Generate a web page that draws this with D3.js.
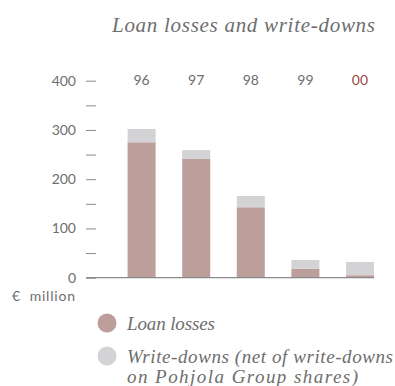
<!DOCTYPE html>
<html>
<head>
<meta charset="utf-8">
<script src="https://cdn.jsdelivr.net/npm/d3@7"></script>
<style>
  body { margin: 0; background: #fff; }
  svg { display: block; }
</style>
</head>
<body>
<svg id="chart" width="395" height="386"></svg>
<script>
// values, in € million
var years = ["96", "97", "98", "99", "00"];
var loanLosses = [275, 241, 143, 18, 5];
var writeDowns = [27, 18, 23, 18, 27];
var yTicks = [0, 50, 100, 150, 200, 250, 300, 350, 400];
var legendLabels = [["Loan losses"], ["Write-downs (net of write-downs", "on Pohjola Group shares)"]];
var legendWidths = [[88], [266, 231]];

var svg = d3.select("#chart");
var numFont = "Lato, 'Open Sans', sans-serif";
var serif = "'Liberation Serif', 'DejaVu Serif', serif";
var grey = "#6e6e6e";
var loanCol = "#bc9f9b";
var writeCol = "#d3d3d5";

var x = d3.scaleBand().domain(years).range([86, 374])
    .paddingInner(0.487).paddingOuter(0.381).align(1);
var y = d3.scaleLinear().domain([0, 400]).range([277.7, 80.7]);

// title
svg.append("text")
    .attr("x", 112).attr("y", 32)
    .attr("font-family", serif).attr("font-style", "italic")
    .attr("font-size", "21px").attr("fill", grey)
    .attr("textLength", 263).attr("lengthAdjust", "spacing")
    .text("Loan losses and write-downs");

// y axis
var yAxis = d3.axisLeft(y)
    .tickValues(yTicks)
    .tickSize(10)
    .tickPadding(10)
    .tickFormat(function (d) { return d % 100 === 0 ? d : ""; });

var ag = svg.append("g").attr("transform", "translate(96,0)").call(yAxis);
ag.select(".domain").remove();
ag.selectAll(".tick line").attr("stroke", "#8a8a8a");
ag.selectAll(".tick text")
    .attr("font-family", numFont).attr("font-size", "14px").attr("fill", grey);

// bars
var g = svg.append("g");
g.selectAll(".loan").data(years).enter().append("rect")
    .attr("class", "loan")
    .attr("x", function (d) { return x(d); })
    .attr("width", x.bandwidth())
    .attr("y", function (d, i) { return y(loanLosses[i]); })
    .attr("height", function (d, i) { return y(0) - y(loanLosses[i]); })
    .attr("fill", loanCol);

g.selectAll(".write").data(years).enter().append("rect")
    .attr("class", "write")
    .attr("x", function (d) { return x(d); })
    .attr("width", x.bandwidth())
    .attr("y", function (d, i) { return y(loanLosses[i] + writeDowns[i]); })
    .attr("height", function (d, i) { return y(loanLosses[i]) - y(loanLosses[i] + writeDowns[i]); })
    .attr("fill", writeCol);

// baseline
svg.append("line")
    .attr("x1", 86).attr("x2", x.range()[1])
    .attr("y1", y(0)).attr("y2", y(0))
    .attr("stroke", "#8a8a8a").attr("stroke-width", 1.2);

// year labels along the top
svg.selectAll(".year").data(years).enter().append("text")
    .attr("class", "year")
    .attr("x", function (d) { return x(d) + x.bandwidth() / 2; })
    .attr("y", y(400)).attr("dy", "0.32em")
    .attr("text-anchor", "middle")
    .attr("font-family", numFont).attr("font-size", "14px")
    .attr("fill", function (d, i) { return i === years.length - 1 ? "#9b4848" : grey; })
    .text(function (d) { return d; });

// unit
svg.append("text")
    .attr("x", 12).attr("y", 301)
    .attr("font-family", numFont).attr("font-size", "14px").attr("fill", grey)
    .attr("xml:space", "preserve")
    .attr("textLength", 63).attr("lengthAdjust", "spacing")
    .text("€  million");

// legend
var legY = [323, 356];
var legCol = [loanCol, writeCol];
legendLabels.forEach(function (lines, i) {
    svg.append("circle")
        .attr("cx", 107).attr("cy", legY[i]).attr("r", 9.5)
        .attr("fill", legCol[i]);
    lines.forEach(function (t, j) {
        svg.append("text")
            .attr("x", 127).attr("y", legY[i] + 7 + j * 20)
            .attr("font-family", serif).attr("font-style", "italic")
            .attr("font-size", "19px").attr("fill", grey)
            .attr("textLength", legendWidths[i][j]).attr("lengthAdjust", "spacing")
            .text(t);
    });
});
</script>
</body>
</html>
